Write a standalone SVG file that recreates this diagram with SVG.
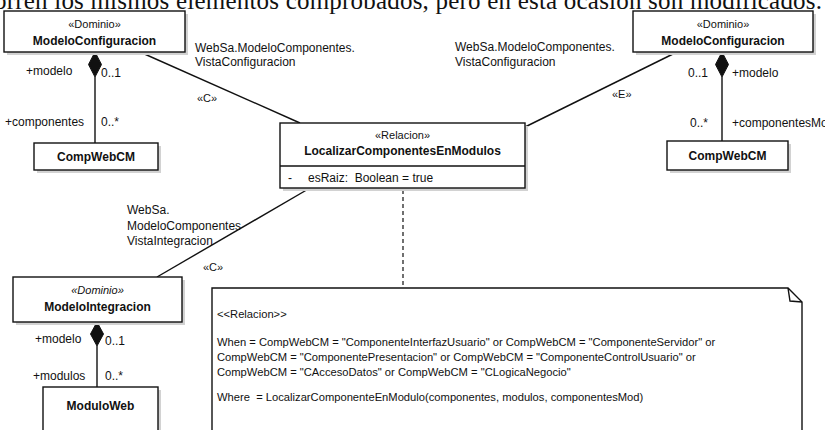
<svg xmlns="http://www.w3.org/2000/svg" width="825" height="430" viewBox="0 0 825 430">
  <style>
    .bg { fill: #ffffff; }
    .box { fill: #ffffff; stroke: #111111; stroke-width: 1.4; }
    .shadow { fill: #d2d2d2; }
    .edge { fill: none; stroke: #111111; stroke-width: 1.4; }
    .dash { fill: none; stroke: #111111; stroke-width: 1.2; stroke-dasharray: 4 3; }
    .diamond { fill: #111111; stroke: #111111; stroke-width: 1; }
    .t { font-family: "Liberation Sans", Arial, Helvetica, sans-serif; font-size: 12px; fill: #111111; }
    .st { font-family: "Liberation Sans", Arial, Helvetica, sans-serif; font-size: 11px; fill: #111111; text-anchor: middle; }
    .sl { font-family: "Liberation Sans", Arial, Helvetica, sans-serif; font-size: 11px; fill: #111111; }
    .it { font-style: italic; }
    .name { font-family: "Liberation Sans", Arial, Helvetica, sans-serif; font-size: 12px; font-weight: bold; fill: #111111; text-anchor: middle; }
    .note { font-family: "Liberation Sans", Arial, Helvetica, sans-serif; font-size: 11.2px; fill: #111111; }
    .pre { white-space: pre; }
    .body { font-family: "Liberation Serif", "Times New Roman", serif; font-size: 25px; fill: #111111; }
  </style>

  <rect class="bg" x="0" y="0" width="825" height="430"/>

  <!-- running text line of the page, cut off at the top -->
  <text class="body" x="-6" y="9" textLength="828" lengthAdjust="spacing">orren los mismos elementos comprobados, pero en esta ocasión son modificados.</text>

  <!-- connectors -->
  <g id="connectors">
    <line class="edge" x1="140" y1="52" x2="300" y2="123"/>
    <line class="edge" x1="525" y1="127" x2="677" y2="52"/>
    <line class="edge" x1="310" y1="188" x2="157" y2="277"/>
    <line class="dash" x1="403" y1="190" x2="403" y2="288"/>

    <!-- composition: ModeloConfiguracion (left) to CompWebCM -->
    <polygon class="diamond" points="95,52 101.5,64.5 95,77 88.5,64.5"/>
    <line class="edge" x1="95" y1="77" x2="95" y2="143"/>

    <!-- composition: ModeloConfiguracion (right) to CompWebCM -->
    <polygon class="diamond" points="722,52 728.5,64.5 722,77 715.5,64.5"/>
    <line class="edge" x1="722" y1="77" x2="722" y2="141"/>

    <!-- composition: ModeloIntegracion to ModuloWeb -->
    <polygon class="diamond" points="97,322 103.5,334 97,346 90.5,334"/>
    <line class="edge" x1="97" y1="346" x2="97" y2="387"/>

    <!-- connector labels -->
    <text class="t" x="26" y="75">+modelo</text>
    <text class="t" x="101" y="77">0..1</text>
    <text class="t" x="5" y="126">+componentes</text>
    <text class="t" x="101" y="126">0..*</text>

    <text class="t" x="195" y="52">WebSa.ModeloComponentes.</text>
    <text class="t" x="195" y="66">VistaConfiguracion</text>
    <text class="sl" x="197" y="102">«C»</text>

    <text class="t" x="455" y="51">WebSa.ModeloComponentes.</text>
    <text class="t" x="455" y="66">VistaConfiguracion</text>
    <text class="sl" x="612" y="98">«E»</text>

    <text class="t" x="688" y="77">0..1</text>
    <text class="t" x="732" y="77">+modelo</text>
    <text class="t" x="690" y="127">0..*</text>
    <text class="t" x="732" y="127">+componentesMo</text>

    <text class="t" x="127" y="214">WebSa.</text>
    <text class="t" x="127" y="230">ModeloComponentes</text>
    <text class="t" x="127" y="245">VistaIntegracion</text>
    <text class="sl" x="203" y="271">«C»</text>

    <text class="t" x="35" y="343">+modelo</text>
    <text class="t" x="105" y="345">0..1</text>
    <text class="t" x="33" y="380">+modulos</text>
    <text class="t" x="105" y="380">0..*</text>
  </g>

  <!-- nodes -->
  <g id="modeloConfiguracionIzq">
    <rect class="shadow" x="7" y="14" width="181" height="41"/>
    <rect class="box" x="4" y="11" width="181" height="41"/>
    <text class="st" x="94.5" y="28">«Dominio»</text>
    <text class="name" x="94.5" y="45">ModeloConfiguracion</text>
  </g>

  <g id="compWebCMIzq">
    <rect class="shadow" x="37" y="146" width="124" height="27"/>
    <rect class="box" x="34" y="143" width="124" height="27"/>
    <text class="name" x="96" y="161">CompWebCM</text>
  </g>

  <g id="localizarComponentesEnModulos">
    <rect class="shadow" x="283" y="126" width="245" height="65"/>
    <rect class="box" x="280" y="123" width="245" height="65"/>
    <line class="edge" x1="280" y1="166" x2="525" y2="166"/>
    <text class="st" x="402.5" y="139">«Relacion»</text>
    <text class="name" x="402.5" y="155">LocalizarComponentesEnModulos</text>
    <text class="t" x="288" y="182">-</text>
    <text class="t pre" x="308" y="182">esRaiz:  Boolean = true</text>
  </g>

  <g id="modeloConfiguracionDer">
    <rect class="shadow" x="636" y="14" width="180" height="41"/>
    <rect class="box" x="633" y="11" width="180" height="41"/>
    <text class="st" x="723" y="28">«Dominio»</text>
    <text class="name" x="723" y="45">ModeloConfiguracion</text>
  </g>

  <g id="compWebCMDer">
    <rect class="shadow" x="670" y="144" width="121" height="29"/>
    <rect class="box" x="667" y="141" width="121" height="29"/>
    <text class="name" x="727.5" y="160">CompWebCM</text>
  </g>

  <g id="modeloIntegracion">
    <rect class="shadow" x="16" y="280" width="169" height="45"/>
    <rect class="box" x="13" y="277" width="169" height="45"/>
    <text class="st it" x="97.5" y="294">«Dominio»</text>
    <text class="name" x="97.5" y="311">ModeloIntegracion</text>
  </g>

  <g id="moduloWeb">
    <rect class="shadow" x="46" y="390" width="115" height="50"/>
    <rect class="box" x="43" y="387" width="115" height="50"/>
    <text class="name" x="100.5" y="410">ModuloWeb</text>
  </g>

  <g id="notaRelacion">
    <path class="box" d="M212,288 H788 L802,302 V440 H212 Z"/>
    <path class="edge" d="M788,288 L790,301 L802,302"/>
    <text class="note" x="217" y="318">&lt;&lt;Relacion&gt;&gt;</text>
    <text class="note" x="217" y="346">When = CompWebCM = "ComponenteInterfazUsuario" or CompWebCM = "ComponenteServidor" or</text>
    <text class="note" x="217" y="361">CompWebCM = "ComponentePresentacion" or CompWebCM = "ComponenteControlUsuario" or</text>
    <text class="note" x="217" y="376">CompWebCM = "CAccesoDatos" or CompWebCM = "CLogicaNegocio"</text>
    <text class="note pre" x="217" y="401">Where  = LocalizarComponenteEnModulo(componentes, modulos, componentesMod)</text>
  </g>
</svg>
